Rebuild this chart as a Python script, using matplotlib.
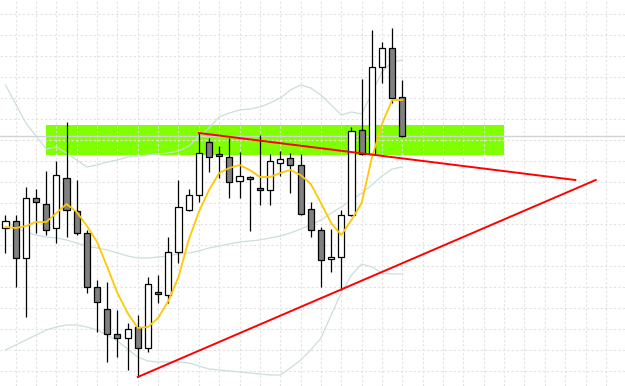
import numpy as np
import matplotlib.pyplot as plt

# OHLC prices per bar
opens = [1.0958, 1.0965, 1.0928, 1.0988, 1.0982, 1.0958, 1.1008, 1.0975, 1.0953, 1.0899,
         1.0877, 1.0852, 1.0848, 1.0859, 1.0838, 1.0894, 1.0891, 1.0934, 1.0976, 1.0991,
         1.1044, 1.1032, 1.1029, 1.1005, 1.1009, 1.0998, 1.0996, 1.1023, 1.1028, 1.1021,
         1.0977, 1.0956, 1.0927, 1.0929, 1.0971, 1.1056, 1.1032, 1.1119, 1.1138, 1.1089]
highs = [1.0971, 1.0971, 1.0999, 1.0997, 1.1015, 1.1025, 1.1064, 1.1006, 1.0956, 1.0906,
         1.0904, 1.0876, 1.0863, 1.0871, 1.0909, 1.0911, 1.0949, 1.1006, 1.0997, 1.1053,
         1.1048, 1.1040, 1.1048, 1.1034, 1.1010, 1.1051, 1.1032, 1.1035, 1.1033, 1.1032,
         1.0984, 1.0959, 1.0957, 1.0976, 1.1059, 1.1107, 1.1156, 1.1144, 1.1158, 1.1106]
lows = [1.0933, 1.0899, 1.0869, 1.0953, 1.0951, 1.0943, 1.0949, 1.0951, 1.0893, 1.0854,
        1.0824, 1.0829, 1.0816, 1.0809, 1.0834, 1.0883, 1.0883, 1.0923, 1.0975, 1.0984,
        1.1014, 1.1008, 1.0988, 1.0988, 1.0955, 1.0981, 1.0981, 1.1010, 1.0993, 1.0971,
        1.0949, 1.0899, 1.0914, 1.0896, 1.0970, 1.1031, 1.1031, 1.1103, 1.1083, 1.1049]
closes = [1.0965, 1.0928, 1.0988, 1.0984, 1.0956, 1.1011, 1.0976, 1.0953, 1.0899, 1.0884,
          1.0852, 1.0848, 1.0857, 1.0838, 1.0902, 1.0892, 1.0934, 1.0979, 1.0991, 1.1033,
          1.1029, 1.1030, 1.1004, 1.1010, 1.1007, 1.0996, 1.1025, 1.1027, 1.1021, 1.0972,
          1.0956, 1.0926, 1.0929, 1.0971, 1.1055, 1.1032, 1.1119, 1.1138, 1.1088, 1.1050]

# yellow moving average
ma_fast = [1.0959, 1.0958, 1.0960, 1.0964, 1.0964, 1.0973, 1.0982, 1.0974, 1.0960, 1.0944,
           1.0919, 1.0893, 1.0873, 1.0858, 1.0859, 1.0868, 1.0885, 1.0909, 1.0946, 1.0974,
           1.0996, 1.1013, 1.1018, 1.1021, 1.1016, 1.1009, 1.1009, 1.1013, 1.1016, 1.1011,
           1.1002, 1.0983, 1.0963, 1.0951, 1.0966, 1.0983, 1.1028, 1.1062, 1.1086, 1.1086]

# bollinger bands
bb_upper = [1.1101, 1.1082, 1.1063, 1.1050, 1.1037, 1.1039, 1.1033, 1.1026, 1.1019, 1.1021,
            1.1024, 1.1026, 1.1029, 1.1030, 1.1031, 1.1032, 1.1033, 1.1035, 1.1040, 1.1049,
            1.1058, 1.1069, 1.1073, 1.1076, 1.1077, 1.1079, 1.1083, 1.1088, 1.1096, 1.1101,
            1.1098, 1.1091, 1.1081, 1.1071, 1.1074, 1.1072, 1.1093, 1.1114, 1.1124, 1.1126]
bb_mid = [1.0966, 1.0958, 1.0954, 1.0951, 1.0949, 1.0948, 1.0946, 1.0943, 1.0940, 1.0938,
          1.0936, 1.0933, 1.0930, 1.0928, 1.0928, 1.0929, 1.0930, 1.0932, 1.0933, 1.0935,
          1.0938, 1.0940, 1.0942, 1.0944, 1.0945, 1.0946, 1.0948, 1.0950, 1.0953, 1.0957,
          1.0961, 1.0966, 1.0973, 1.0979, 1.0986, 1.0993, 1.1001, 1.1010, 1.1017, 1.1019]
bb_lower = [1.0836, 1.0841, 1.0846, 1.0851, 1.0856, 1.0859, 1.0861, 1.0861, 1.0859, 1.0856,
            1.0851, 1.0845, 1.0837, 1.0829, 1.0825, 1.0824, 1.0824, 1.0824, 1.0823, 1.0820,
            1.0817, 1.0816, 1.0815, 1.0814, 1.0813, 1.0812, 1.0811, 1.0811, 1.0818, 1.0826,
            1.0836, 1.0848, 1.0871, 1.0893, 1.0911, 1.0922, 1.0919, 1.0913, 1.0912, 1.0912]

# resistance zone (bar range, price range)
zone_bars = (3.95, 49.0)
zone_prices = (1.1031, 1.10615)

# trend lines: (bar, price) pairs
trend_upper = [(19, 1.1053), (56, 1.1006)]
trend_lower = [(13, 1.0809), (58, 1.1006)]

n = len(opens)
x = np.arange(n)

fig = plt.figure(figsize=(6.25, 3.86), dpi=100)
ax = fig.add_axes([0, 0, 1, 1])
ax.set_xlim(-0.54, 60.88)
ax.set_ylim(1.0800, 1.1186)

# dotted grid
ax.set_xticks(np.arange(1, 61, 2))
ax.set_yticks(1.1172 - 0.0021 * np.arange(18))
ax.set_axisbelow('line')
ax.grid(True, color='#e2e2e2', linestyle=(0, (2, 2)), linewidth=0.8)
ax.tick_params(length=0, labelbottom=False, labelleft=False)
for s in ax.spines.values():
    s.set_visible(False)

ax.fill_between(zone_bars, zone_prices[0], zone_prices[1], color='#80ff00', lw=0, zorder=1)
ax.axhline(closes[-1], color='#d2d2d2', lw=1, zorder=1.6)

for band in (bb_upper, bb_mid, bb_lower):
    ax.plot(x, band, color='#cadfdc', lw=0.9, zorder=2)

o = np.array(opens)
c = np.array(closes)
up = c >= o
ax.vlines(x, lows, highs, color='black', lw=0.9, zorder=3)
ax.bar(x, np.abs(c - o), bottom=np.minimum(o, c), width=0.6,
       color=np.where(up, 'white', '#808080'), edgecolor='black', linewidth=0.9, zorder=3.5)

ax.plot(x, ma_fast, color='#ffc800', lw=1.3, zorder=4)

for line in (trend_upper, trend_lower):
    xs, ys = zip(*line)
    ax.plot(xs, ys, color='#ff0000', lw=1.4, zorder=5)

fig.savefig('out.png', dpi=100)
